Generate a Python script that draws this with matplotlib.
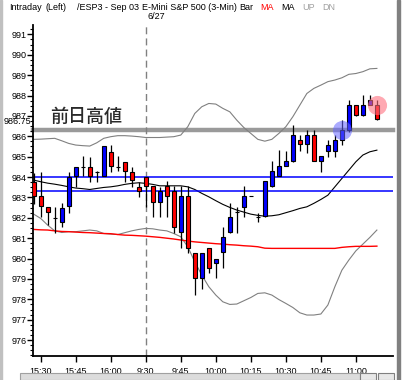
import matplotlib.pyplot as plt
import matplotlib.patches as mpatches
from matplotlib.ticker import MultipleLocator
from matplotlib.transforms import blended_transform_factory

# 3分足 OHLC (前日15:27 ～ 当日11:00頃)
opens = [983.77, 983.08, 982.51, 982.00, 981.80, 982.57, 984.05, 984.50, 984.50, 984.26,
         984.05, 985.24, 984.50, 984.75, 984.26, 983.52, 984.01, 983.56, 982.79, 983.56,
         983.31, 981.32, 983.08, 980.25, 979.07, 980.50, 979.79, 980.30, 981.32, 982.28,
         982.54, 983.05, 982.05, 982.08, 983.57, 984.05, 984.54, 984.80, 985.81, 985.60,
         986.06, 984.80, 985.29, 985.29, 985.81, 986.30, 987.53, 987.04, 987.53, 987.53]
highs = [984.20, 984.26, 982.51, 982.54, 982.75, 984.26, 984.50, 985.03, 985.00, 984.30,
         985.54, 985.57, 985.03, 984.75, 984.50, 983.77, 984.01, 983.56, 983.52, 983.79,
         983.57, 983.57, 983.57, 980.25, 980.25, 980.50, 980.00, 981.53, 982.74, 982.51,
         983.56, 983.05, 982.25, 983.79, 984.80, 985.32, 985.27, 986.55, 986.06, 986.30,
         986.30, 985.03, 985.81, 986.06, 986.80, 987.78, 987.53, 988.02, 988.02, 987.78]
lows = [982.70, 982.05, 981.64, 981.27, 981.53, 982.25, 983.52, 984.05, 983.77, 983.77,
        984.05, 984.26, 984.29, 983.77, 983.52, 983.03, 982.54, 982.02, 982.02, 982.02,
        981.27, 980.50, 980.25, 978.21, 978.49, 979.27, 979.03, 979.52, 981.27, 981.27,
        982.05, 983.05, 981.80, 982.05, 983.52, 984.05, 984.54, 984.75, 985.27, 985.16,
        984.80, 984.26, 985.00, 985.00, 985.57, 986.22, 987.00, 987.00, 987.53, 986.80]
closes = [983.08, 982.57, 982.30, 982.00, 982.49, 984.01, 984.50, 984.50, 984.05, 984.26,
          985.54, 984.55, 984.50, 984.31, 983.85, 983.31, 983.57, 982.79, 983.31, 983.08,
          981.56, 983.08, 980.53, 979.07, 980.25, 979.55, 980.00, 981.04, 982.02, 982.28,
          983.07, 983.05, 982.05, 983.79, 984.29, 984.54, 984.78, 986.06, 985.60, 986.06,
          984.80, 985.03, 985.57, 985.81, 986.30, 987.53, 987.04, 987.53, 987.78, 986.83]

# 移動平均 (黒), ボリンジャーバンド (灰), 長期移動平均 (赤)
ma_black = [983.85, 983.77, 983.70, 983.65, 983.59, 983.52, 983.46, 983.43, 983.39, 983.44,
            983.49, 983.52, 983.57, 983.64, 983.69, 983.72, 983.69, 983.64, 983.57, 983.57,
            983.57, 983.57, 983.52, 983.39, 983.20, 983.03, 982.84, 982.66, 982.51, 982.38,
            982.28, 982.18, 982.12, 982.08, 982.10, 982.15, 982.25, 982.35, 982.46, 982.54,
            982.71, 982.90, 983.11, 983.52, 983.93, 984.34, 984.75, 985.08, 985.24, 985.32]
bb_upper = [985.85, 985.86, 985.88, 985.90, 985.78, 985.65, 985.57, 985.54, 985.52, 985.68,
            985.90, 985.98, 986.03, 986.03, 986.01, 985.98, 985.94, 985.94, 985.94, 985.96,
            985.98, 986.06, 986.47, 987.12, 987.45, 987.61, 987.58, 987.37, 987.20, 986.79,
            986.43, 986.14, 985.85, 985.76, 985.85, 986.14, 986.47, 986.96, 987.53, 988.10,
            988.35, 988.51, 988.68, 988.76, 988.87, 989.04, 989.08, 989.17, 989.31, 989.33]
bb_lower = [982.18, 981.97, 981.64, 981.36, 981.28, 981.32, 981.32, 981.36, 981.40, 981.36,
            981.23, 981.20, 981.18, 981.27, 981.36, 981.43, 981.48, 981.46, 981.40, 981.36,
            981.23, 981.07, 980.58, 979.84, 979.19, 978.62, 978.21, 977.88, 977.75, 977.77,
            977.93, 978.09, 978.29, 978.32, 978.21, 977.99, 977.80, 977.60, 977.34, 977.23,
            977.23, 977.28, 977.72, 978.62, 979.43, 979.93, 980.38, 980.71, 981.04, 981.40]
ma_red = [981.43, 981.41, 981.40, 981.36, 981.33, 981.32, 981.30, 981.28, 981.27, 981.25,
          981.23, 981.22, 981.18, 981.15, 981.14, 981.12, 981.10, 981.07, 981.04, 981.00,
          980.96, 980.91, 980.86, 980.82, 980.79, 980.76, 980.73, 980.71, 980.68, 980.66,
          980.63, 980.61, 980.58, 980.51, 980.50, 980.50, 980.50, 980.50, 980.50, 980.50,
          980.50, 980.50, 980.50, 980.50, 980.55, 980.58, 980.60, 980.60, 980.60, 980.61]

blue_levels = [984.02, 983.30]
prev_high = 986.30
prev_high_label = "986.75"
xtick_pos = [1, 6, 11, 16, 21, 26, 31, 36, 41, 46]
xtick_labels = ["15:30", "15:45", "16:00", "9:30", "9:45", "10:00", "10:15", "10:30", "10:45", "11:00"]
ytick_vals = list(range(976, 992))
session_start = 16
blue_mark = (44, 986.30)
pink_mark = (49, 987.53)

plt.rcParams['font.family'] = ['Liberation Sans', 'DejaVu Sans']

fig = plt.figure(figsize=(4.03, 3.80), dpi=100)
W, H = 403, 380
ax = fig.add_axes([33 / W, 1 - 356 / H, 360 / W, 331 / H])

x = list(range(len(opens)))

# インジケーター
ax.plot(x, bb_upper, color='#808080', lw=0.8, zorder=2)
ax.plot(x, bb_lower, color='#808080', lw=0.8, zorder=2)
ax.plot(x, ma_black, color='black', lw=0.8, zorder=2)
ax.plot(x, ma_red, color='#ff0000', lw=1.0, zorder=2)
for lv in blue_levels:
    ax.axhline(lv, color='#0000ff', lw=1.1, zorder=2)
ax.axhline(prev_high, color='#9a9a9a', lw=3.2, zorder=1, clip_on=False)
ax.axvline(session_start, color='#808080', lw=1.0, ls=(0, (5, 3)), zorder=1)

# ローソク足
for i in x:
    o, h, l, c = opens[i], highs[i], lows[i], closes[i]
    ax.vlines(i, l, h, color='black', lw=0.9, zorder=3)
    if c > o:
        col = '#0000ff'
    elif c < o:
        col = '#ff0000'
    else:
        col = 'black'
    ax.bar(i, c - o, bottom=o, width=0.6, color=col, edgecolor='black', linewidth=0.8, zorder=4)

ax.scatter([blue_mark[0]], [blue_mark[1]], s=190, color='#6666ff', alpha=0.55, lw=0, zorder=5)
ax.scatter([pink_mark[0]], [pink_mark[1]], s=190, color='#ff7080', alpha=0.6, lw=0, zorder=5)

ax.text(2.4, 986.95, "前日高値", fontsize=13, color='#2a2a2a', weight='medium',
        family=['Noto Sans CJK JP', 'DejaVu Sans'], va='center', ha='left', zorder=6)

ax.set_xlim(-0.1, 51.3)
ax.set_ylim(975.22, 991.46)
ax.set_xticks(xtick_pos)
ax.set_xticklabels(xtick_labels, fontsize=6.5)
ax.set_yticks(ytick_vals)
ax.set_yticklabels([str(v) for v in ytick_vals], fontsize=6.5)
ax.yaxis.set_minor_locator(MultipleLocator(0.25))
ax.tick_params(axis='y', which='major', length=4, width=1, pad=0.5)
ax.tick_params(axis='y', which='minor', length=2, width=0.8)
ax.tick_params(axis='x', length=4, width=1, pad=4)
for s in ['top', 'right']:
    ax.spines[s].set_visible(False)
for s in ['left', 'bottom']:
    ax.spines[s].set_linewidth(1.3)

trans = blended_transform_factory(ax.transAxes, ax.transData)
ax.text(-0.006, 986.72, prev_high_label, transform=trans, fontsize=6.5,
        ha='right', va='center')

# ヘッダー
header = [(9, "Intraday", 'black'), (46, "(Left)", 'black'), (77, "/ESP3 - Sep 03", 'black'),
          (142, "E-Mini S&P 500 (3-Min)", 'black'), (239, "Bar", 'black'), (260, "MA", '#ff0000'),
          (281, "MA", 'black'), (302, "UP", '#a0a0a0'), (322, "DN", '#a0a0a0')]
for px, txt, col in header:
    fig.text(px / W, 1 - 7.5 / H, txt, fontsize=6.5, color=col, ha='left', va='center')
fig.text(148 / W, 1 - 16.5 / H, "6/27", fontsize=6.5, ha='left', va='center')

# ウィンドウ枠
fig.patches.append(mpatches.Rectangle((0, 0), 2 / W, 1, transform=fig.transFigure,
                                      color='#c0c0c0', zorder=0))
fig.patches.append(mpatches.Rectangle((397 / W, 0), 3 / W, 1, transform=fig.transFigure,
                                      color='#808080', zorder=0))
fig.patches.append(mpatches.Rectangle((20 / W, 0), 340 / W, 7 / H, transform=fig.transFigure,
                                      facecolor='#dcdcdc', edgecolor='#a0a0a0', lw=0.8, zorder=0))
fig.patches.append(mpatches.Rectangle((360 / W, 0), 16 / W, 7 / H, transform=fig.transFigure,
                                      facecolor='#e8e8e8', edgecolor='#808080', lw=0.8, zorder=0))
fig.patches.append(mpatches.Rectangle((378 / W, 0), 16 / W, 7 / H, transform=fig.transFigure,
                                      facecolor='#e8e8e8', edgecolor='#808080', lw=0.8, zorder=0))

plt.savefig('out.png', dpi=100)
